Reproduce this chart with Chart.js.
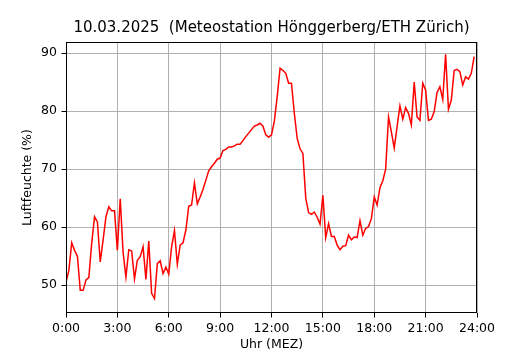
<!DOCTYPE html>
<html>
<head>
<meta charset="utf-8">
<script src="https://cdn.jsdelivr.net/npm/chart.js@4"></script>
<style>
  body { margin: 0; background: #fff; }
</style>
</head>
<body>
<canvas id="grafico" width="530" height="350"></canvas>
<script>
// Luftfeuchte alle 10 Minuten, 0:00 bis 23:50
const feuchte = [
  50.5, 52.5, 57.3, 56.0, 55.0, 49.1, 49.1, 50.9, 51.3, 57.2,
  61.8, 60.9, 54.0, 57.8, 61.8, 63.5, 62.8, 62.8, 56.0, 64.9,
  55.7, 51.4, 56.1, 55.9, 51.1, 54.3, 54.9, 56.6, 51.0, 57.6,
  48.6, 47.7, 53.7, 54.2, 52.0, 53.1, 51.9, 56.6, 59.4, 53.6,
  56.9, 57.3, 59.5, 63.6, 63.8, 67.6, 64.0, 65.2, 66.5, 68.1,
  69.7, 70.4, 71.0, 71.7, 71.9, 73.2, 73.4, 73.8, 73.8, 74.0,
  74.3, 74.3, 74.9, 75.6, 76.2, 76.8, 77.4, 77.6, 77.9, 77.4,
  75.9, 75.5, 75.9, 78.3, 82.5, 87.4, 87.0, 86.5, 84.8, 84.8,
  79.6, 75.3, 73.5, 72.7, 65.0, 62.5, 62.2, 62.6, 61.7, 60.5,
  65.5, 58.2, 60.6, 58.4, 58.4, 56.9, 56.1, 56.7, 56.8, 58.6,
  57.8, 58.3, 58.2, 61.1, 58.6, 59.8, 60.1, 61.5, 65.2, 63.8,
  66.8, 68.0, 70.0, 79.0, 76.4, 73.6, 77.3, 80.9, 78.6, 80.6,
  79.6, 77.6, 85.0, 79.0, 78.4, 84.8, 83.6, 78.4, 78.6, 79.9,
  83.2, 84.2, 82.0, 89.8, 80.3, 81.9, 87.0, 87.2, 86.8, 84.5,
  85.9, 85.5, 86.5, 89.4
];
// Minuten seit Mitternacht
const minuten = feuchte.map((_, i) => i * 10);

const xTicks = [0, 180, 360, 540, 720, 900, 1080, 1260, 1440];
const xLabels = ['0:00', '3:00', '6:00', '9:00', '12:00', '15:00', '18:00', '21:00', '24:00'];
const yTicks = [50, 60, 70, 80, 90];

const titel = '10.03.2025  (Meteostation Hönggerberg/ETH Zürich)';

// Rahmen und Titel wie bei matplotlib
const rahmen = {
  id: 'rahmen',
  afterDraw(chart) {
    const { ctx, chartArea: a } = chart;
    ctx.save();
    ctx.strokeStyle = '#000';
    ctx.lineWidth = 1;
    ctx.strokeRect(a.left + 0.5, a.top + 0.5, a.right - a.left - 1, a.bottom - a.top - 1);
    ctx.fillStyle = '#000';
    ctx.font = '15px "DejaVu Sans"';
    ctx.textAlign = 'center';
    ctx.textBaseline = 'middle';
    ctx.fillText(titel, (a.left + a.right) / 2, 28.5);
    ctx.restore();
  }
};

const gridOpts = {
  color: '#b0b0b0',
  lineWidth: 1,
  tickColor: '#000',
  tickLength: 4.5
};

new Chart(document.getElementById('grafico'), {
  type: 'line',
  data: {
    datasets: [{
      data: minuten.map((m, i) => ({ x: m, y: feuchte[i] })),
      borderColor: '#ff0000',
      borderWidth: 1.5,
      pointRadius: 0,
      tension: 0,
      fill: false
    }]
  },
  options: {
    responsive: false,
    animation: false,
    layout: { padding: { top: 42, right: 53, bottom: 0, left: 0 } },
    plugins: { legend: { display: false }, tooltip: { enabled: false } },
    scales: {
      x: {
        type: 'linear',
        min: 0,
        max: 1440,
        afterBuildTicks: s => { s.ticks = xTicks.map(v => ({ value: v })); },
        afterFit: s => { s.height = 37; },
        grid: gridOpts,
        border: { display: false },
        ticks: {
          color: '#000',
          font: { family: 'DejaVu Sans', size: 12.5 },
          padding: 4,
          maxRotation: 0,
          autoSkip: false,
          callback: v => xLabels[xTicks.indexOf(v)]
        },
        title: {
          display: true,
          text: 'Uhr (MEZ)',
          color: '#000',
          font: { family: 'DejaVu Sans', size: 12.5, lineHeight: 1 },
          padding: { top: 0, bottom: -1 }
        }
      },
      y: {
        min: 45.2,
        max: 91.9,
        afterBuildTicks: s => { s.ticks = yTicks.map(v => ({ value: v })); },
        afterFit: s => { s.width = 66; },
        grid: gridOpts,
        border: { display: false },
        ticks: {
          color: '#000',
          font: { family: 'DejaVu Sans', size: 12.5 },
          padding: 4.5
        },
        title: {
          display: true,
          text: 'Luftfeuchte (%)',
          color: '#000',
          font: { family: 'DejaVu Sans', size: 12.5, lineHeight: 1.2 },
          padding: { top: 20, bottom: 0 }
        }
      }
    }
  },
  plugins: [rahmen]
});
</script>
</body>
</html>
